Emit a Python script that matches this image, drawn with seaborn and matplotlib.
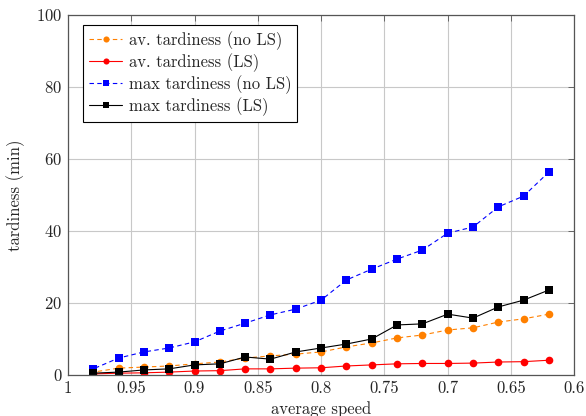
import pandas as pd
import matplotlib.pyplot as plt
import seaborn as sns

# average speed values (x axis runs from 1 down to 0.6)
speed = [0.98, 0.96, 0.94, 0.92, 0.90, 0.88, 0.86, 0.84, 0.82, 0.80,
         0.78, 0.76, 0.74, 0.72, 0.70, 0.68, 0.66, 0.64, 0.62]

av_no_ls = [0.8, 1.9, 2.2, 2.5, 3.1, 3.6, 4.7, 5.3, 5.8, 6.4,
            7.8, 8.9, 10.3, 11.1, 12.5, 13.1, 14.7, 15.6, 16.9]
av_ls = [0.3, 0.5, 0.6, 0.8, 1.1, 1.2, 1.7, 1.7, 1.9, 2.0,
         2.5, 2.8, 3.1, 3.2, 3.2, 3.3, 3.6, 3.7, 4.1]
max_no_ls = [1.7, 4.7, 6.4, 7.5, 9.2, 12.2, 14.4, 16.7, 18.3, 20.8,
             26.4, 29.4, 32.2, 34.7, 39.4, 41.1, 46.7, 49.7, 56.4]
max_ls = [0.5, 0.8, 1.4, 1.7, 2.8, 3.1, 5.0, 4.4, 6.4, 7.5,
          8.6, 10.0, 13.9, 14.2, 16.9, 15.8, 18.9, 20.8, 23.6]

df = pd.DataFrame({'speed': speed, 'av_no_ls': av_no_ls, 'av_ls': av_ls,
                   'max_no_ls': max_no_ls, 'max_ls': max_ls})

sns.set_style('white')
plt.rcParams['font.family'] = 'serif'
plt.rcParams['font.serif'] = ['cmr10']
plt.rcParams['mathtext.fontset'] = 'cm'
plt.rcParams['axes.formatter.use_mathtext'] = True
plt.rcParams['font.size'] = 12

fig = plt.figure(figsize=(5.86, 4.16), dpi=100)
ax = fig.add_axes([0.116, 0.0986, 0.864, 0.8654])

series = [
    ('av_no_ls', 'av. tardiness (no LS)', '#ff8000', 'o', (0, (4, 3))),
    ('av_ls', 'av. tardiness (LS)', '#ff0000', 'o', '-'),
    ('max_no_ls', 'max tardiness (no LS)', '#0000ff', 's', (0, (4, 3))),
    ('max_ls', 'max tardiness (LS)', 'black', 's', '-'),
]
for col, label, color, marker, ls in series:
    sns.lineplot(data=df, x='speed', y=col, ax=ax, color=color, marker=marker,
                 markersize=5.5, markeredgewidth=0, linewidth=0.8,
                 linestyle=ls, label=label)

ax.set_xlim(1, 0.6)
ax.set_ylim(0, 100)
ax.set_xticks([1, 0.95, 0.9, 0.85, 0.8, 0.75, 0.7, 0.65, 0.6])
ax.set_xticklabels(['1', '0.95', '0.9', '0.85', '0.8', '0.75', '0.7', '0.65', '0.6'])
ax.set_yticks([0, 20, 40, 60, 80, 100])
ax.grid(True, color='#c8c8c8', linewidth=0.8)
ax.tick_params(direction='in', top=True, right=True, length=4, width=0.6,
               color='#555555', pad=4)
for s in ax.spines.values():
    s.set_color('#555555')
    s.set_linewidth(0.9)
ax.set_xlabel('average speed', labelpad=4)
ax.set_ylabel('tardiness (min)', labelpad=8)

leg = ax.legend(loc='upper left', bbox_to_anchor=(0.03, 0.972), borderaxespad=0,
                fancybox=False, edgecolor='black', framealpha=1,
                handlelength=2.0, handletextpad=0.4, labelspacing=0.2,
                borderpad=0.35, markerscale=0.8)
leg.get_frame().set_linewidth(0.8)

fig.savefig('out.png', dpi=100)
